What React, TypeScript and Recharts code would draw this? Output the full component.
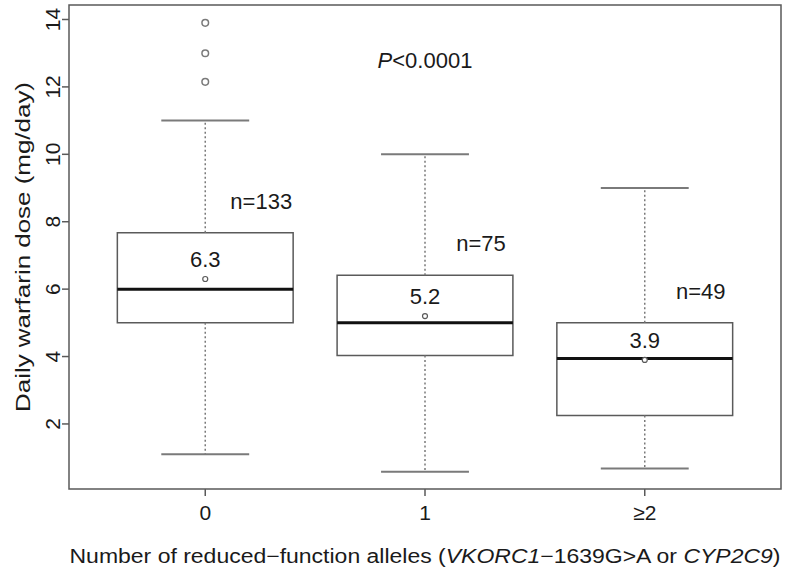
import React from "react";
import {
  ComposedChart,
  XAxis,
  YAxis,
  Scatter,
  ReferenceArea,
  ReferenceLine,
  ReferenceDot,
} from "recharts";

const groups = ["0", "1", "≥2"];
const positions = [1, 2, 3];
const lowerWhisker = [1.1, 0.58, 0.68];
const q1 = [5.0, 4.03, 2.25];
const median = [6.0, 5.0, 3.94];
const q3 = [7.67, 6.41, 5.0];
const upperWhisker = [11.0, 10.0, 9.0];
const means = [6.3, 5.2, 3.9];
const counts = [133, 75, 49];
const outliers = [[13.9, 13.0, 12.15], [], []];
const yTicks = [2, 4, 6, 8, 10, 12, 14];

const FONT = '"Liberation Sans", Arial, sans-serif';
const TEXT = "#1a1a1a";
const FRAME = "#5a5a5a";
const GREY = "#7a7a7a";
const X_DOMAIN: [number, number] = [0.38, 3.62];
const Y_DOMAIN: [number, number] = [0.07, 14.43];
const BOX_HALF = 0.4;
const CAP_HALF = 0.2;

const meanPoints = positions.map((x, i) => ({ x, y: means[i] }));
const outlierPoints = positions.flatMap((x, i) => outliers[i].map((y) => ({ x, y })));

function YTick(props: any) {
  const { x, y, payload } = props;
  return (
    <text
      x={x}
      y={y}
      transform={`rotate(-90, ${x}, ${y})`}
      textAnchor="middle"
      fontSize={21}
      fontFamily={FONT}
      fill={TEXT}
    >
      {payload.value}
    </text>
  );
}

function XTick(props: any) {
  const { x, y, payload } = props;
  return (
    <text x={x} y={y + 22} textAnchor="middle" fontSize={21} fontFamily={FONT} fill={TEXT}>
      {groups[positions.indexOf(payload.value)]}
    </text>
  );
}

export default function App() {
  return (
    <div style={{ position: "absolute", left: 0, top: 0, background: "#fff" }}>
      <ComposedChart
        width={787}
        height={574}
        margin={{ top: 5, right: 6, bottom: 0, left: 0 }}
      >
        <XAxis
          type="number"
          dataKey="x"
          domain={X_DOMAIN}
          allowDataOverflow
          ticks={positions}
          axisLine={false}
          tickLine={{ stroke: FRAME, strokeWidth: 1.5 }}
          tickSize={7}
          tick={<XTick />}
          height={85}
          label={(p: any) => {
            const vb = p.viewBox;
            return (
              <text
                x={vb.x + vb.width / 2}
                y={563}
                textAnchor="middle"
                fontSize={20}
                fontFamily={FONT}
                fill={TEXT}
                textLength={711}
                lengthAdjust="spacingAndGlyphs"
              >
                Number of reduced−function alleles (
                <tspan fontStyle="italic">VKORC1</tspan>−1639G&gt;A or{" "}
                <tspan fontStyle="italic">CYP2C9</tspan>)
              </text>
            );
          }}
        />
        <YAxis
          type="number"
          domain={Y_DOMAIN}
          allowDataOverflow
          ticks={yTicks}
          axisLine={false}
          tickLine={{ stroke: FRAME, strokeWidth: 1.5 }}
          tickSize={7}
          tick={<YTick />}
          width={69}
          label={(p: any) => {
            const vb = p.viewBox;
            const cy = vb.y + vb.height / 2;
            return (
              <text
                x={30}
                y={cy}
                transform={`rotate(-90, 30, ${cy})`}
                textAnchor="middle"
                fontSize={21}
                fontFamily={FONT}
                fill={TEXT}
                textLength={330}
                lengthAdjust="spacingAndGlyphs"
              >
                Daily warfarin dose (mg/day)
              </text>
            );
          }}
        />

        {/* plot frame */}
        <ReferenceArea
          x1={X_DOMAIN[0]}
          x2={X_DOMAIN[1]}
          y1={Y_DOMAIN[0]}
          y2={Y_DOMAIN[1]}
          fill="none"
          stroke={FRAME}
          strokeWidth={1.5}
          ifOverflow="visible"
        />

        {positions.map((x, i) => (
          <React.Fragment key={groups[i]}>
            {/* whiskers */}
            <ReferenceLine
              segment={[{ x, y: q3[i] }, { x, y: upperWhisker[i] }]}
              stroke={GREY}
              strokeWidth={1.5}
              strokeDasharray="2 2.5"
            />
            <ReferenceLine
              segment={[{ x, y: q1[i] }, { x, y: lowerWhisker[i] }]}
              stroke={GREY}
              strokeWidth={1.5}
              strokeDasharray="2 2.5"
            />
            <ReferenceLine
              segment={[{ x: x - CAP_HALF, y: upperWhisker[i] }, { x: x + CAP_HALF, y: upperWhisker[i] }]}
              stroke={GREY}
              strokeWidth={2}
            />
            <ReferenceLine
              segment={[{ x: x - CAP_HALF, y: lowerWhisker[i] }, { x: x + CAP_HALF, y: lowerWhisker[i] }]}
              stroke={GREY}
              strokeWidth={2}
            />
            {/* box */}
            <ReferenceArea
              x1={x - BOX_HALF}
              x2={x + BOX_HALF}
              y1={q1[i]}
              y2={q3[i]}
              fill="none"
              stroke={FRAME}
              strokeWidth={1.5}
            />
            {/* median */}
            <ReferenceLine
              segment={[{ x: x - BOX_HALF, y: median[i] }, { x: x + BOX_HALF, y: median[i] }]}
              stroke="#111"
              strokeWidth={3}
            />
            {/* mean label */}
            <ReferenceDot
              x={x}
              y={means[i]}
              shape={(p: any) => (
                <text x={p.cx} y={p.cy - 12} textAnchor="middle" fontSize={22} fontFamily={FONT} fill={TEXT}>
                  {means[i].toFixed(1)}
                </text>
              )}
            />
            {/* n label */}
            <ReferenceDot
              x={x}
              y={q3[i]}
              shape={(p: any) => (
                <text x={p.cx + 56} y={p.cy - 24} textAnchor="middle" fontSize={22} fontFamily={FONT} fill={TEXT}>
                  n={counts[i]}
                </text>
              )}
            />
          </React.Fragment>
        ))}

        <ReferenceDot
          x={2}
          y={12.8}
          shape={(p: any) => (
            <text x={p.cx} y={p.cy + 8} textAnchor="middle" fontSize={22} fontFamily={FONT} fill={TEXT}>
              <tspan fontStyle="italic">P</tspan>&lt;0.0001
            </text>
          )}
        />

        <Scatter
          data={meanPoints}
          dataKey="y"
          isAnimationActive={false}
          shape={(p: any) => (
            <circle cx={p.cx} cy={p.cy} r={2.5} fill="#fff" stroke={FRAME} strokeWidth={1.2} />
          )}
        />
        <Scatter
          data={outlierPoints}
          dataKey="y"
          isAnimationActive={false}
          shape={(p: any) => (
            <circle cx={p.cx} cy={p.cy} r={3.3} fill="#fff" stroke={GREY} strokeWidth={1.5} />
          )}
        />
      </ComposedChart>
    </div>
  );
}
